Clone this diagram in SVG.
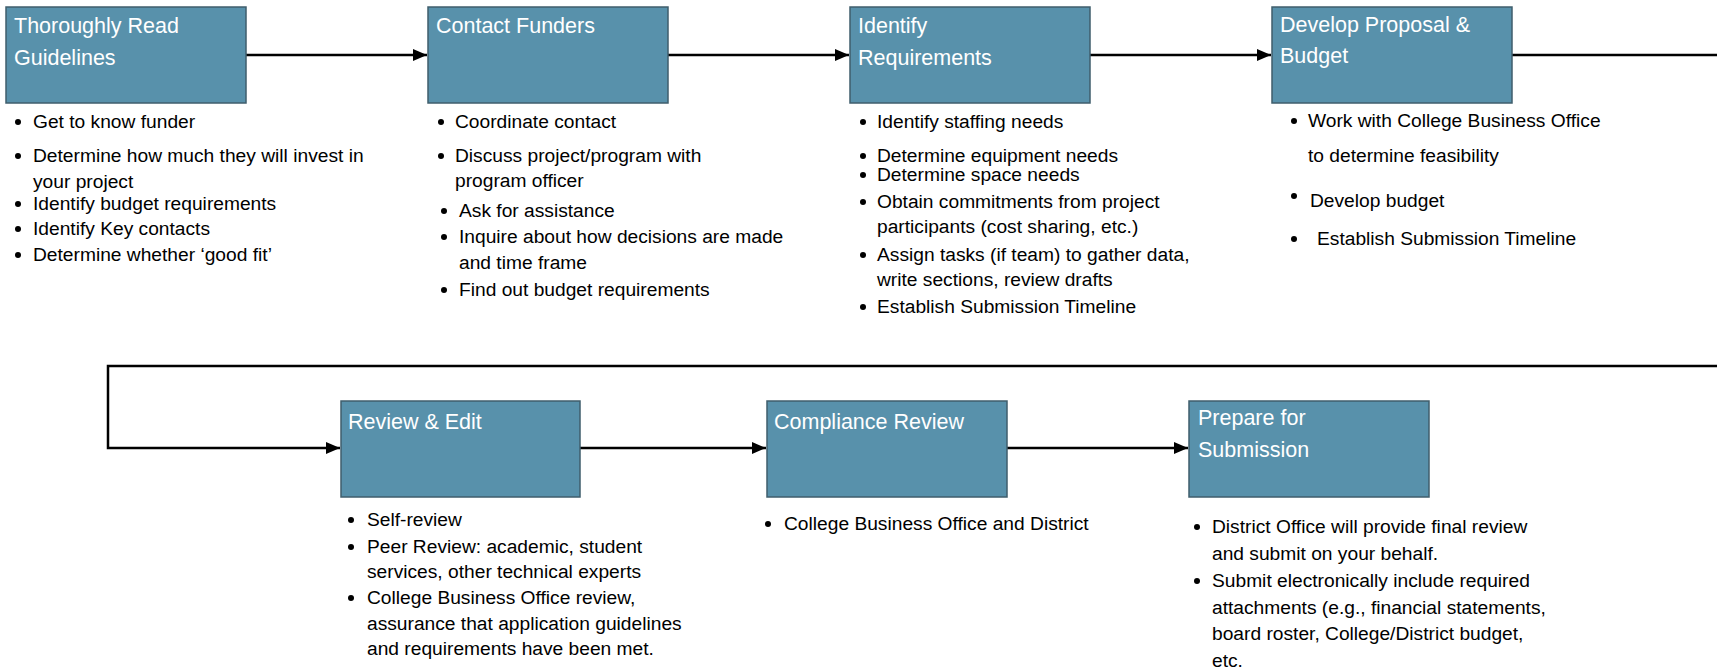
<svg xmlns="http://www.w3.org/2000/svg" width="1717" height="668" viewBox="0 0 1717 668">
<style>
.box{fill:#5891AB;stroke:#3F5E6C;stroke-width:1.5}
.t{font-family:"Liberation Sans",Arial,sans-serif;font-size:21.5px;fill:#ffffff}
.b{font-family:"Liberation Sans",Arial,sans-serif;font-size:19.2px;fill:#000000}
.c{fill:none;stroke:#000000;stroke-width:2.5}
.dot{fill:#000000}
</style>
<defs>
<marker id="ah" viewBox="0 0 14 12" refX="14" refY="6" markerWidth="14" markerHeight="12" markerUnits="userSpaceOnUse" orient="auto">
<path d="M0,0 L14,6 L0,12 Z" fill="#000"/>
</marker>
</defs>
<g id="connectors">
<line class="c" x1="246" y1="55" x2="427" y2="55" marker-end="url(#ah)"/>
<line class="c" x1="668" y1="55" x2="849" y2="55" marker-end="url(#ah)"/>
<line class="c" x1="1090" y1="55" x2="1271" y2="55" marker-end="url(#ah)"/>
<line class="c" x1="1512" y1="55" x2="1717" y2="55"/>
<polyline class="c" points="1717,366 108,366 108,448 340,448" marker-end="url(#ah)"/>
<line class="c" x1="580" y1="448" x2="766" y2="448" marker-end="url(#ah)"/>
<line class="c" x1="1007" y1="448" x2="1188" y2="448" marker-end="url(#ah)"/>
</g>
<g id="node1">
<rect class="box" x="6" y="7" width="240" height="96"/>
<text class="t" x="14" y="33">Thoroughly Read</text>
<text class="t" x="14" y="65">Guidelines</text>
<circle class="dot" cx="18" cy="122" r="3"/><text class="b" x="33" y="128">Get to know funder</text>
<circle class="dot" cx="18" cy="156" r="3"/><text class="b" x="33" y="162">Determine how much they will invest in</text>
<text class="b" x="33" y="188">your project</text>
<circle class="dot" cx="18" cy="204" r="3"/><text class="b" x="33" y="210">Identify budget requirements</text>
<circle class="dot" cx="18" cy="229" r="3"/><text class="b" x="33" y="235">Identify Key contacts</text>
<circle class="dot" cx="18" cy="255" r="3"/><text class="b" x="33" y="261">Determine whether ‘good fit’</text>
</g>
<g id="node2">
<rect class="box" x="428" y="7" width="240" height="96"/>
<text class="t" x="436" y="33">Contact Funders</text>
<circle class="dot" cx="441" cy="122" r="3"/><text class="b" x="455" y="128">Coordinate contact</text>
<circle class="dot" cx="441" cy="156" r="3"/><text class="b" x="455" y="162">Discuss project/program with</text>
<text class="b" x="455" y="187">program officer</text>
<circle class="dot" cx="444" cy="211" r="3"/><text class="b" x="459" y="217">Ask for assistance</text>
<circle class="dot" cx="444" cy="237" r="3"/><text class="b" x="459" y="243">Inquire about how decisions are made</text>
<text class="b" x="459" y="269">and time frame</text>
<circle class="dot" cx="444" cy="290" r="3"/><text class="b" x="459" y="296">Find out budget requirements</text>
</g>
<g id="node3">
<rect class="box" x="850" y="7" width="240" height="96"/>
<text class="t" x="858" y="33">Identify</text>
<text class="t" x="858" y="65">Requirements</text>
<circle class="dot" cx="863" cy="122" r="3"/><text class="b" x="877" y="128">Identify staffing needs</text>
<circle class="dot" cx="863" cy="156" r="3"/><text class="b" x="877" y="162">Determine equipment needs</text>
<circle class="dot" cx="863" cy="175" r="3"/><text class="b" x="877" y="181">Determine space needs</text>
<circle class="dot" cx="863" cy="202" r="3"/><text class="b" x="877" y="208">Obtain commitments from project</text>
<text class="b" x="877" y="233">participants (cost sharing, etc.)</text>
<circle class="dot" cx="863" cy="255" r="3"/><text class="b" x="877" y="261">Assign tasks (if team) to gather data,</text>
<text class="b" x="877" y="286">write sections, review drafts</text>
<circle class="dot" cx="863" cy="307" r="3"/><text class="b" x="877" y="313">Establish Submission Timeline</text>
</g>
<g id="node4">
<rect class="box" x="1272" y="7" width="240" height="96"/>
<text class="t" x="1280" y="32">Develop Proposal &amp;</text>
<text class="t" x="1280" y="63">Budget</text>
<circle class="dot" cx="1294" cy="121" r="3"/><text class="b" x="1308" y="127">Work with College Business Office</text>
<text class="b" x="1308" y="162">to determine feasibility</text>
<circle class="dot" cx="1294" cy="196" r="3"/><text class="b" x="1310" y="207">Develop budget</text>
<circle class="dot" cx="1294" cy="239" r="3"/><text class="b" x="1317" y="245">Establish Submission Timeline</text>
</g>
<g id="node5">
<rect class="box" x="341" y="401" width="239" height="96"/>
<text class="t" x="348" y="429">Review &amp; Edit</text>
<circle class="dot" cx="351" cy="520" r="3"/><text class="b" x="367" y="526">Self-review</text>
<circle class="dot" cx="351" cy="547" r="3"/><text class="b" x="367" y="553">Peer Review: academic, student</text>
<text class="b" x="367" y="578">services, other technical experts</text>
<circle class="dot" cx="351" cy="598" r="3"/><text class="b" x="367" y="604">College Business Office review,</text>
<text class="b" x="367" y="630">assurance that application guidelines</text>
<text class="b" x="367" y="655">and requirements have been met.</text>
</g>
<g id="node6">
<rect class="box" x="767" y="401" width="240" height="96"/>
<text class="t" x="774" y="429">Compliance Review</text>
<circle class="dot" cx="768" cy="524" r="3"/><text class="b" x="784" y="530">College Business Office and District</text>
</g>
<g id="node7">
<rect class="box" x="1189" y="401" width="240" height="96"/>
<text class="t" x="1198" y="425">Prepare for</text>
<text class="t" x="1198" y="457">Submission</text>
<circle class="dot" cx="1197" cy="527" r="3"/><text class="b" x="1212" y="533">District Office will provide final review</text>
<text class="b" x="1212" y="560">and submit on your behalf.</text>
<circle class="dot" cx="1197" cy="581" r="3"/><text class="b" x="1212" y="587">Submit electronically include required</text>
<text class="b" x="1212" y="614">attachments (e.g., financial statements,</text>
<text class="b" x="1212" y="640">board roster, College/District budget,</text>
<text class="b" x="1212" y="667">etc.</text>
</g>
</svg>
